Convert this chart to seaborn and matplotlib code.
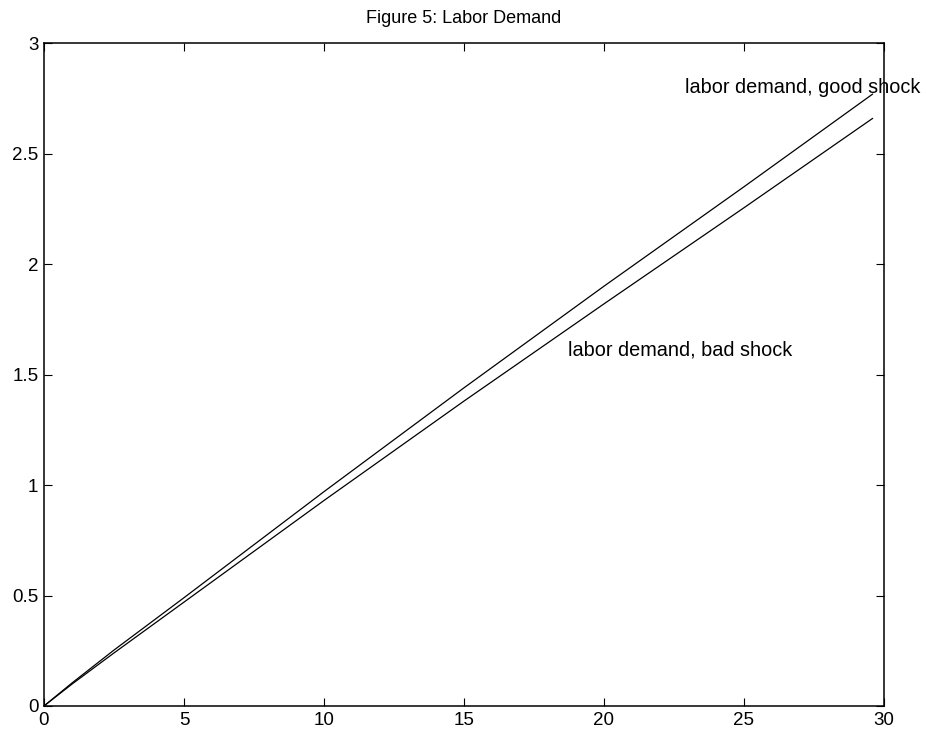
import matplotlib
matplotlib.use("Agg")
from matplotlib import pyplot as plt
import numpy as np
import pandas as pd
import seaborn as sns

# values
hours = [0, 1, 2.5, 5, 7.5, 10, 15, 20, 25, 29.6]
good_shock = [0, 0.104, 0.253, 0.49, 0.73, 0.97, 1.44, 1.90, 2.35, 2.77]
bad_shock = [0, 0.099, 0.24, 0.47, 0.70, 0.93, 1.38, 1.82, 2.255, 2.66]

x_ticks = [0, 5, 10, 15, 20, 25, 30]
y_ticks = [0, 0.5, 1, 1.5, 2, 2.5, 3]

sns.set_style("ticks")
plt.rcParams['font.family'] = ['Liberation Sans', 'DejaVu Sans']
plt.rcParams['text.color'] = 'black'

df = pd.DataFrame({"x": hours, "good": good_shock, "bad": bad_shock})

fig = plt.figure(figsize=(9.26, 7.38), dpi=100)
ax = fig.add_axes([0.0475, 0.0434, 0.907, 0.898])

sns.lineplot(data=df, x="x", y="good", color="black", linewidth=0.9, ax=ax)
sns.lineplot(data=df, x="x", y="bad", color="black", linewidth=0.9, ax=ax)

ax.set_xlim(0, 30)
ax.set_ylim(0, 3)
ax.set_xticks(x_ticks)
ax.set_yticks(y_ticks)
ax.set_xticklabels([str(t) for t in x_ticks])
ax.set_yticklabels(["0", "0.5", "1", "1.5", "2", "2.5", "3"])
ax.set_xlabel("")
ax.set_ylabel("")

for s in ax.spines.values():
    s.set_visible(True)
    s.set_linewidth(1.1)
    s.set_color("black")
ax.tick_params(direction="in", length=6, width=0.8, labelsize=13.5,
               top=True, right=True, pad=4, colors="black")

ax.text(22.9, 2.80, "labor demand, good shock", fontsize=14.3, va="center",
        clip_on=False, color="black")
ax.text(18.7, 1.61, "labor demand, bad shock", fontsize=14.3, va="center",
        color="black")
ax.set_title("Figure 5: Labor Demand", fontsize=13, pad=14.5, color="black")

fig.savefig("out.png", dpi=100)
